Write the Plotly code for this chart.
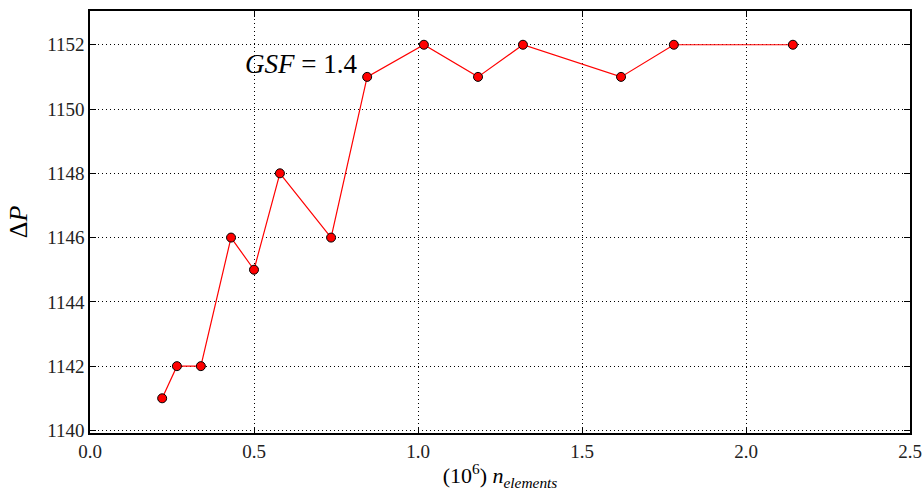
import plotly.graph_objects as go

n_elements = [0.22, 0.265, 0.338, 0.43, 0.5, 0.579, 0.735, 0.845, 1.018, 1.183, 1.32, 1.619, 1.78, 2.143]
delta_p = [1141, 1142, 1142, 1146, 1145, 1148, 1146, 1151, 1152, 1151, 1152, 1151, 1152, 1152]
x_ticks = [0.0, 0.5, 1.0, 1.5, 2.0, 2.5]
y_ticks = [1140, 1142, 1144, 1146, 1148, 1150, 1152]

FONT = "Liberation Serif"

fig = go.Figure()
fig.add_trace(go.Scatter(
    x=n_elements, y=delta_p, mode="lines+markers",
    line=dict(color="#ff0000", width=1.2),
    marker=dict(color="#ff0000", size=9, line=dict(color="black", width=1)),
    showlegend=False, cliponaxis=False,
))

fig.add_annotation(x=0.466, y=1151.4, xref="x", yref="y",
                   text="<i>GSF</i> = 1.4",
                   showarrow=False, xanchor="left", yanchor="middle",
                   font=dict(family=FONT, size=27, color="black"))

axis_common = dict(
    showline=True, linecolor="black", linewidth=1.5, mirror="allticks",
    ticks="inside", ticklen=6, tickcolor="black", tickwidth=1,
    showgrid=True, gridcolor="black", gridwidth=1, griddash="1px,3px",
    zeroline=False, automargin=False,
    tickfont=dict(family=FONT, size=19, color="#222"),
)

fig.update_xaxes(range=[0, 2.5], tickvals=x_ticks, ticktext=[f"{v:.1f}" for v in x_ticks],
                 title=dict(text="(10<sup>6</sup>) <i>n</i><sub><i>elements</i></sub>",
                            font=dict(family=FONT, size=22, color="black"), standoff=8),
                 **axis_common)
fig.update_yaxes(range=[1139.92, 1153.05], tickvals=y_ticks, ticktext=[str(v) for v in y_ticks],
                 title=dict(text="Δ<i>P</i>", font=dict(family=FONT, size=26, color="black"), standoff=12),
                 **axis_common)

fig.update_layout(
    width=922, height=491,
    margin=dict(l=90, r=12, t=11, b=58),
    plot_bgcolor="white", paper_bgcolor="white",
)

fig.write_html("out.html")
